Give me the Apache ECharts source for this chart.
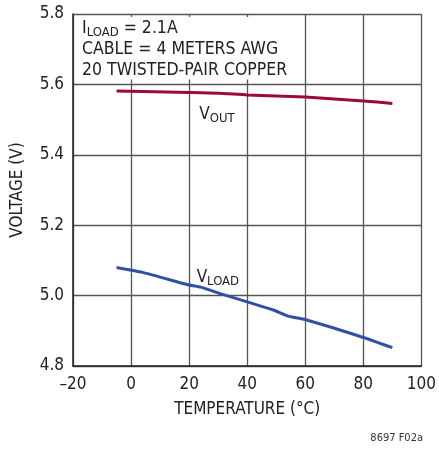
<!DOCTYPE html>
<html>
<head>
<meta charset="utf-8">
<script src="https://cdn.jsdelivr.net/npm/echarts@6/dist/echarts.min.js"></script>
<style>
  html, body { margin: 0; padding: 0; background: #fff; }
  #chart { width: 439px; height: 450px; }
</style>
</head>
<body>
<div id="chart"></div>
<script>
const FONT = '"DejaVu Sans Condensed", "Liberation Sans", sans-serif'

// temperature (°C) / voltage (V)
const voutTemp = [-5, 20, 30, 40, 60, 80, 90]
const voutVolt = [5.581, 5.577, 5.575, 5.570, 5.564, 5.553, 5.546]
const vloadTemp = [-5, 4, 20, 24, 31, 40, 49, 54.5, 60, 80, 90]
const vloadVolt = [5.080, 5.066, 5.030, 5.024, 5.005, 4.982, 4.959, 4.941, 4.932, 4.881, 4.852]

const xTicks = [-20, 100, 20]   // min, max, step
const yTicks = [4.8, 5.8, 0.2]

const chart = echarts.init(document.getElementById('chart'), null, { renderer: 'canvas' })

const pairs = (xs, ys) => xs.map((x, i) => [x, ys[i]])

const subRich = {
  v: { fontFamily: FONT, fontSize: 17, color: '#222', lineHeight: 20 },
  s: { fontFamily: FONT, fontSize: 13, color: '#222', lineHeight: 20, verticalAlign: 'bottom', padding: [9, 0, 0, 0] }
}

chart.setOption({
  animation: false,
  textStyle: { fontFamily: FONT },
  title: {
    left: 78, top: 18,
    backgroundColor: '#fff',
    padding: [0, 4, 0, 4],
    text: '{a|I}{s|LOAD}{a| = 2.1A}\n{a|CABLE = 4 METERS AWG}\n{a|20 TWISTED-PAIR COPPER}',
    textStyle: {
      fontWeight: 'normal',
      rich: {
        a: { fontFamily: FONT, fontSize: 17.5, fontWeight: 'normal', color: '#222', lineHeight: 21 },
        s: { fontFamily: FONT, fontSize: 13, fontWeight: 'normal', color: '#222', lineHeight: 21, verticalAlign: 'bottom', padding: [9, 0, 0, 0] }
      }
    }
  },
  graphic: [{
    type: 'text', right: 16, bottom: 6,
    style: { text: '8697 F02a', fontFamily: FONT, fontSize: 11, fill: '#333' }
  }],
  grid: { left: 73, right: 14, top: 14, bottom: 84, containLabel: false },
  xAxis: {
    type: 'value', min: xTicks[0], max: xTicks[1], interval: xTicks[2],
    name: 'TEMPERATURE (°C)', nameLocation: 'middle', nameGap: 35,
    nameTextStyle: { fontFamily: FONT, fontSize: 17, color: '#222' },
    axisLine: { onZero: false, lineStyle: { color: '#222', width: 1.5 } },
    axisTick: { show: false },
    splitLine: { lineStyle: { color: '#555', width: 1.3 } },
    axisLabel: {
      fontFamily: FONT, fontSize: 17, color: '#222', margin: 10,
      formatter: v => v < 0 ? '\u2013' + Math.abs(v) : String(v)
    }
  },
  yAxis: {
    type: 'value', min: yTicks[0], max: yTicks[1], interval: yTicks[2],
    name: 'VOLTAGE (V)', nameLocation: 'middle', nameGap: 47,
    nameTextStyle: { fontFamily: FONT, fontSize: 17, color: '#222' },
    axisLine: { show: true, onZero: false, lineStyle: { color: '#222', width: 1.5 } },
    axisTick: { show: false },
    splitLine: { lineStyle: { color: '#555', width: 1.3 } },
    axisLabel: {
      fontFamily: FONT, fontSize: 17, color: '#222', margin: 9,
      formatter: v => v.toFixed(1)
    }
  },
  series: [
    {
      name: 'VOUT', type: 'line', data: pairs(voutTemp, voutVolt),
      showSymbol: false, smooth: 0.2,
      lineStyle: { color: '#9a0b38', width: 3 },
      markPoint: {
        symbolSize: 0, silent: true,
        data: [{ coord: [29.6, 5.514] }],
        label: { show: true, position: 'inside', formatter: '{v|V}{s|OUT}', rich: subRich }
      }
    },
    {
      name: 'VLOAD', type: 'line', data: pairs(vloadTemp, vloadVolt),
      showSymbol: false, smooth: 0.2,
      lineStyle: { color: '#3050a3', width: 3 },
      markPoint: {
        symbolSize: 0, silent: true,
        data: [{ coord: [29.9, 5.05] }],
        label: { show: true, position: 'inside', formatter: '{v|V}{s|LOAD}', rich: subRich }
      }
    }
  ]
})
</script>
</body>
</html>
